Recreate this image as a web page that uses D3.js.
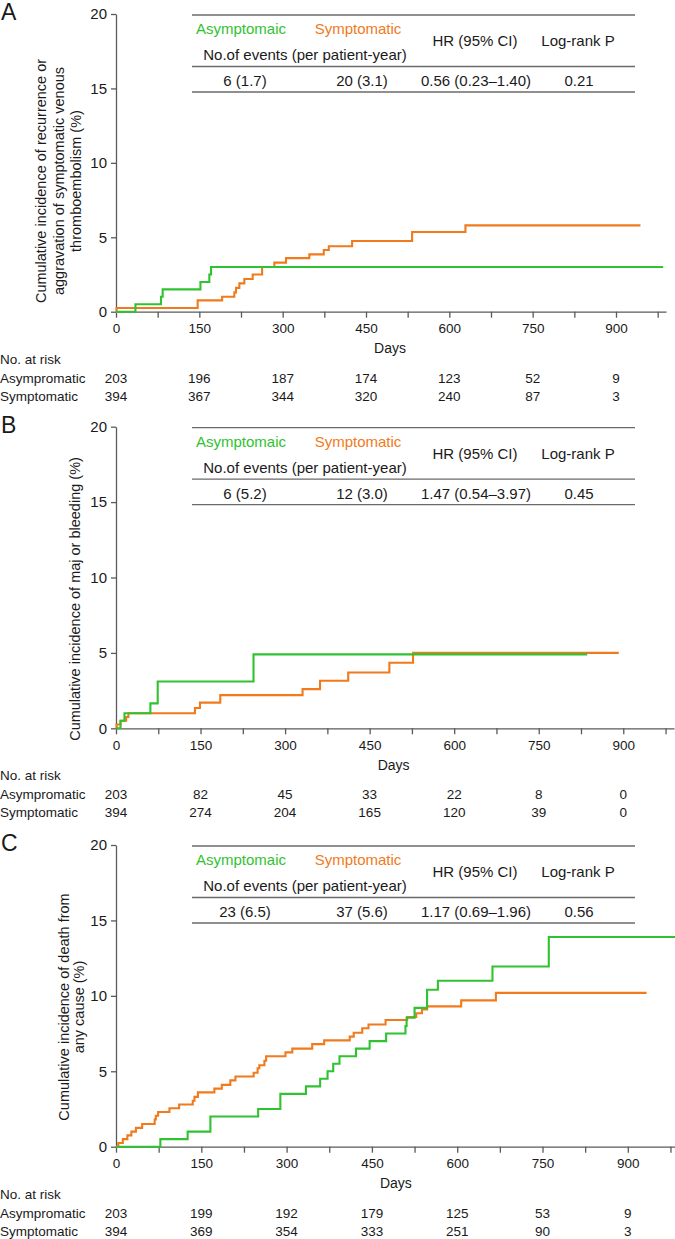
<!DOCTYPE html>
<html>
<head>
<meta charset="utf-8">
<script src="https://cdn.jsdelivr.net/npm/d3@7"></script>
<style>
  body { margin: 0; background: #fff; }
  svg { font-family: "Liberation Sans", Arial, sans-serif; }
</style>
</head>
<body>
<script>
// groups and ticks
var groupNames = ["Asympromatic", "Symptomatic"];
var legendNames = ["Asymptomaic", "Symptomatic"];
var dayTicks = [0, 150, 300, 450, 600, 750, 900];
var pctTicks = [0, 5, 10, 15, 20];
var statHeaders = ["No.of events (per patient-year)", "HR (95% CI)", "Log-rank P"];

// curves, [day, cumulative incidence %]
var aAsym = [[0,0],[35,0.5],[81,1.0],[84,1.5],[152,2.0],[168,2.5],[171,3.0],[985,3.0]];
var aSym = [[0,0],[1,0.25],[147,0.76],[191,1.0],[213,1.3],[216,1.6],[222,1.9],[231,2.2],[246,2.5],
  [263,3.0],[285,3.3],[306,3.6],[348,3.85],[374,4.15],[383,4.4],[425,4.75],[533,5.35],[629,5.8],[944,5.8]];

var bAsym = [[0,0],[8,0.5],[15,1.0],[61,1.65],[74,3.1],[244,4.9],[836,4.9]];
var bSym = [[0,0],[1,0.25],[8,0.5],[18,0.75],[22,1.0],[140,1.35],[149,1.7],[185,2.2],[331,2.6],
  [362,3.15],[412,3.7],[485,4.35],[527,5.0],[892,5.0]];

var cAsym = [[0,0],[78,0.5],[126,1.0],[166,2.0],[250,2.5],[289,3.5],[334,4.0],[359,4.5],[372,5.0],
  [382,5.5],[393,6.0],[422,6.5],[446,7.0],[475,7.5],[509,8.0],[511,8.55],[525,9.2],[547,10.4],
  [566,11.0],[662,11.95],[761,13.9],[990,13.9]];
var cSym = [[0,0],[4,0.25],[12,0.5],[20,0.75],[27,1.0],[35,1.25],[46,1.5],[68,1.8],[70,2.05],[74,2.3],
  [94,2.55],[111,2.8],[135,3.05],[138,3.3],[144,3.6],[173,3.85],[186,4.1],[201,4.4],[210,4.65],
  [242,4.9],[249,5.2],[252,5.4],[261,5.7],[264,6.0],[298,6.25],[310,6.5],[345,6.8],[366,7.05],
  [411,7.3],[418,7.55],[433,7.85],[444,8.1],[474,8.4],[512,8.6],[528,8.85],[538,9.1],[547,9.3],
  [607,9.7],[668,10.2],[933,10.2]];

// table rows: asym events, sym events, HR, P
var statsA = ["6 (1.7)", "20 (3.1)", "0.56 (0.23\u20131.40)", "0.21"];
var statsB = ["6 (5.2)", "12 (3.0)", "1.47 (0.54\u20133.97)", "0.45"];
var statsC = ["23 (6.5)", "37 (5.6)", "1.17 (0.69\u20131.96)", "0.56"];

// number at risk
var riskAAsym = [203, 196, 187, 174, 123, 52, 9];
var riskASym = [394, 367, 344, 320, 240, 87, 3];
var riskBAsym = [203, 82, 45, 33, 22, 8, 0];
var riskBSym = [394, 274, 204, 165, 120, 39, 0];
var riskCAsym = [203, 199, 192, 179, 125, 53, 9];
var riskCSym = [394, 369, 354, 333, 251, 90, 3];

var titleA = ["Cumulative incidence of recurrence or", "aggravation of symptomatic venous", "thromboembolism (%)"];
var titleB = ["Cumulative incidence of maj or bleeding (%)"];
var titleC = ["Cumulative incidence of death from", "any cause (%)"];

var green = "#30c230", orange = "#f07a1c", axisCol = "#5a5a5a", textCol = "#1a1a1a";

var svg = d3.select("body").append("svg")
  .attr("width", 675)
  .attr("height", 1239);

var panels = [
  {letter: "A", top: 14, bottom: 311.7, xEnd: 666, asym: aAsym, sym: aSym, stats: statsA,
   risk: [riskAAsym, riskASym], title: titleA, titleX: [46, 63.5, 81], titleY: 181},
  {letter: "B", top: 426.7, bottom: 728.3, xEnd: 674, asym: bAsym, sym: bSym, stats: statsB,
   risk: [riskBAsym, riskBSym], title: titleB, titleX: [80], titleY: 599},
  {letter: "C", top: 845, bottom: 1146.7, xEnd: 679, asym: cAsym, sym: cSym, stats: statsC,
   risk: [riskCAsym, riskCSym], title: titleC, titleX: [69, 84], titleY: 1007}
];

panels.forEach(function (p) {
  var g = svg.append("g");

  var x = d3.scaleLinear().domain([0, 990]).range([116, p.xEnd]);
  var y = d3.scaleLinear().domain([0, 20]).range([p.bottom, p.top]);

  // panel letter
  g.append("text")
    .attr("x", 1).attr("y", p.top + 6)
    .style("font-size", "23px").attr("fill", textCol)
    .text(p.letter);

  // y axis
  var yAxis = g.append("g")
    .attr("transform", "translate(116,0)")
    .call(d3.axisLeft(y).tickValues(pctTicks).tickSize(5).tickPadding(4).tickSizeOuter(0));
  yAxis.selectAll("text").style("font-size", "15px").attr("fill", textCol);

  // x axis, minor ticks every 75 days
  var xAxis = g.append("g")
    .attr("transform", "translate(0," + p.bottom + ")")
    .call(d3.axisBottom(x).tickValues(d3.range(0, 976, 75))
      .tickFormat(function (d) { return d % 150 === 0 ? d : ""; })
      .tickSize(6).tickPadding(6).tickSizeOuter(0));
  xAxis.selectAll("text").style("font-size", "13.5px").attr("fill", textCol);

  [yAxis, xAxis].forEach(function (a) {
    a.select(".domain").attr("stroke", axisCol).attr("stroke-width", 1.3);
    a.selectAll(".tick line").attr("stroke", axisCol).attr("stroke-width", 1.3);
  });

  g.append("text")
    .attr("x", x(450) + 24).attr("y", p.bottom + 41.5)
    .attr("text-anchor", "middle")
    .style("font-size", "14px").attr("fill", textCol)
    .text("Days");

  // y title
  p.title.forEach(function (t, i) {
    g.append("text")
      .attr("transform", "translate(" + p.titleX[i] + "," + p.titleY + ") rotate(-90)")
      .attr("text-anchor", "middle")
      .style("font-size", "14.5px").attr("fill", textCol)
      .text(t);
  });

  // curves
  var line = d3.line()
    .x(function (d) { return x(d[0]); })
    .y(function (d) { return y(d[1]); })
    .curve(d3.curveStepAfter);

  g.append("path").datum(p.sym)
    .attr("fill", "none").attr("stroke", orange).attr("stroke-width", 2.1)
    .attr("d", line);
  g.append("path").datum(p.asym)
    .attr("fill", "none").attr("stroke", green).attr("stroke-width", 2.1)
    .attr("d", line);

  // stats table
  var tTop = p.top + 1;
  [0, 51.5, 77].forEach(function (dy) {
    g.append("line")
      .attr("x1", 192).attr("x2", 635)
      .attr("y1", tTop + dy).attr("y2", tTop + dy)
      .attr("stroke", "#6a6a6a").attr("stroke-width", 1.3);
  });
  g.append("text").attr("x", 241).attr("y", tTop + 19)
    .attr("text-anchor", "middle").attr("fill", green).style("font-size", "15px")
    .text(legendNames[0]);
  g.append("text").attr("x", 358).attr("y", tTop + 19)
    .attr("text-anchor", "middle").attr("fill", orange).style("font-size", "15px")
    .text(legendNames[1]);
  var hx = [305, 475, 578], hy = [45, 31, 31];
  statHeaders.forEach(function (h, i) {
    g.append("text").attr("x", hx[i]).attr("y", tTop + hy[i])
      .attr("text-anchor", "middle").attr("fill", textCol).style("font-size", "15px")
      .text(h);
  });
  var vx = [245, 362, 476, 579];
  p.stats.forEach(function (v, i) {
    g.append("text").attr("x", vx[i]).attr("y", tTop + 71)
      .attr("text-anchor", "middle").attr("fill", textCol).style("font-size", "15px")
      .text(v);
  });

  // number at risk
  g.append("text").attr("x", 0).attr("y", p.bottom + 52)
    .style("font-size", "13.5px").attr("fill", textCol)
    .text("No. at risk");
  p.risk.forEach(function (row, r) {
    var ry = p.bottom + 71 + r * 18;
    g.append("text").attr("x", 0).attr("y", ry)
      .style("font-size", "13.5px").attr("fill", textCol)
      .text(groupNames[r]);
    g.selectAll(null).data(row).enter().append("text")
      .attr("x", function (d, i) { return x(dayTicks[i]); })
      .attr("y", ry)
      .attr("text-anchor", "middle")
      .style("font-size", "13.5px").attr("fill", textCol)
      .text(function (d) { return d; });
  });
});
</script>
</body>
</html>
